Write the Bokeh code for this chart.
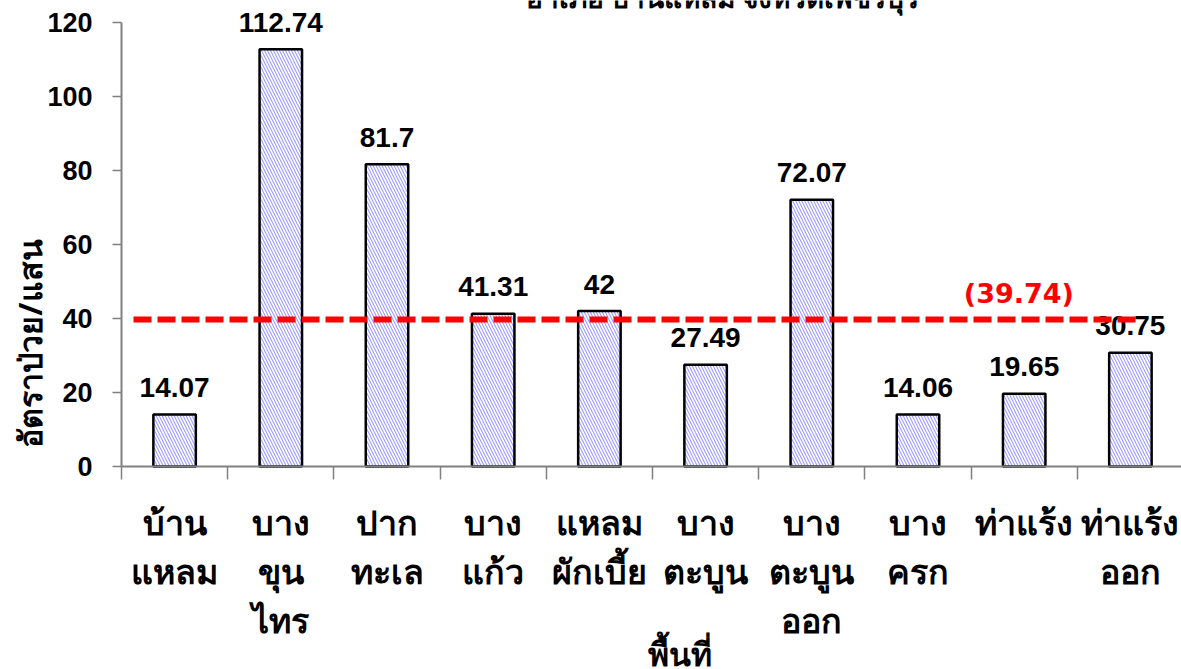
import math
from bokeh.plotting import figure
from bokeh.models import ColumnDataSource, FixedTicker, LinearAxis, Range1d
from bokeh.core.properties import value
from bokeh.embed import file_html
from bokeh.resources import INLINE

# ---------------- data ----------------
areas = ["บ้าน\nแหลม", "บาง\nขุน\nไทร", "ปาก\nทะเล", "บาง\nแก้ว", "แหลม\nผักเบี้ย",
         "บาง\nตะบูน", "บาง\nตะบูน\nออก", "บาง\nครก", "ท่าแร้ง", "ท่าแร้ง\nออก"]
rates = [14.07, 112.74, 81.7, 41.31, 42, 27.49, 72.07, 14.06, 19.65, 30.75]
province_rate = 39.74
province_label = "(39.74)"
y_ticks = [0, 20, 40, 60, 80, 100, 120]
title_text = "อำเภอ บ้านแหลม จังหวัดเพชรบุรี"
x_title = "พื้นที่"
y_title = "อัตราป่วย/แสน"

# ---------------- layout / style ----------------
W, H = 1181, 669
AXIS_X = 121          # pixel column of the y axis
AXIS_Y = 466          # pixel row of the x axis
CAT_W = 106.2         # pixels per category
PX = 3.7              # pixels per rate unit
n = len(areas)

x_range = Range1d(-AXIS_X / CAT_W, (W - AXIS_X) / CAT_W)
y_range = Range1d(-(H - AXIS_Y) / PX, AXIS_Y / PX)

LATIN_S = "Liberation Sans"
THAI_S = "Noto Sans"
LATIN = value(LATIN_S)
THAI = value(THAI_S)
GRAY = "#808080"

centers = [i + 0.5 for i in range(n)]

p = figure(width=W, height=H, x_range=x_range, y_range=y_range,
           output_backend="svg", toolbar_location=None, title=None,
           x_axis_type=None, y_axis_type=None,
           min_border_left=0, min_border_right=0, min_border_top=0, min_border_bottom=0)
p.outline_line_color = None
p.xgrid.visible = False
p.ygrid.visible = False
p.background_fill_color = "white"
p.border_fill_color = "white"

yaxis = LinearAxis(ticker=FixedTicker(ticks=y_ticks), bounds=(0, 120), fixed_location=0,
                   axis_line_color=GRAY, axis_line_width=2,
                   major_tick_line_color=GRAY, major_tick_line_width=1.5,
                   major_tick_in=0, major_tick_out=9, minor_tick_line_color=None,
                   major_label_standoff=20,
                   major_label_text_font=LATIN_S, major_label_text_font_size="27px",
                   major_label_text_font_style="bold", major_label_text_color="black")
p.add_layout(yaxis, "left")

xaxis = LinearAxis(ticker=FixedTicker(ticks=list(range(0, n + 1))), bounds=(0, n),
                   fixed_location=0,
                   axis_line_color=GRAY, axis_line_width=2,
                   major_tick_line_color=GRAY, major_tick_line_width=1.5,
                   major_tick_in=0, major_tick_out=13, minor_tick_line_color=None,
                   major_label_text_color=None, major_label_text_font_size="1px")
p.add_layout(xaxis, "below")

src = ColumnDataSource(dict(x=centers, top=rates, lab=["{:g}".format(v) for v in rates]))
p.vbar(x="x", top="top", bottom=0, width=0.4, source=src,
       fill_color="white", line_color="black", line_width=2.5,
       hatch_pattern="\\", hatch_color="#9c9cff", hatch_scale=6, hatch_weight=1.1)

p.text(x="x", y="top", text="lab", source=src, y_offset=-27,
       text_align="center", text_baseline="alphabetic",
       text_font=LATIN, text_font_size="28px", text_font_style="bold", text_color="black")

# province average line
LINE_X0, LINE_X1 = 0.113, 9.59
p.segment(x0=[LINE_X0], y0=[province_rate], x1=[LINE_X1], y1=[province_rate],
          line_color="#ff0000", line_width=6, line_dash="18 6")
p.text(x=[8.45], y=[province_rate], text=[province_label], y_offset=-26,
       text_align="center", text_baseline="alphabetic",
       text_font=value("DejaVu Sans"), text_font_size="27px", text_font_style="bold",
       text_color="#ff0000")

# title (cut off at the top edge as in the reference)
p.text(x=[(722 - AXIS_X) / CAT_W], y=[(AXIS_Y + 4) / PX], text=[title_text],
       text_align="center", text_baseline="alphabetic",
       text_font=THAI, text_font_size="28px", text_font_style="bold", text_color="black")

# category labels (multi-line)
lx, ly, lt = [], [], []
for c, a in zip(centers, areas):
    for k, line in enumerate(a.split("\n")):
        lx.append(c)
        ly.append(-(55 + 49 * k) / PX)
        lt.append(line)
p.text(x=lx, y=ly, text=lt, text_align="center", text_baseline="alphabetic",
       text_font=THAI, text_font_size="34px", text_font_style="bold", text_color="black")

# axis titles
p.text(x=[(679 - AXIS_X) / CAT_W], y=[-187 / PX], text=[x_title],
       text_align="center", text_baseline="alphabetic",
       text_font=THAI, text_font_size="32px", text_font_style="bold", text_color="black")
p.text(x=[(29 - AXIS_X) / CAT_W], y=[(AXIS_Y - 343) / PX], text=[y_title], angle=math.pi / 2,
       text_align="center", text_baseline="middle",
       text_font=THAI, text_font_size="32px", text_font_style="bold", text_color="black")

open("out.html", "w").write(file_html(p, INLINE))
